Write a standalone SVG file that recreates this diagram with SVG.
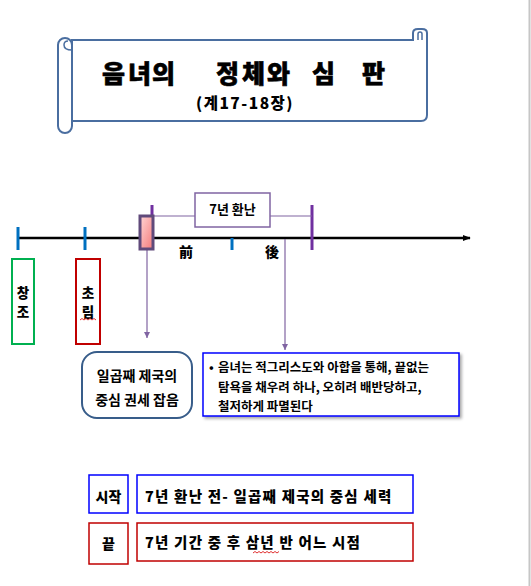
<svg xmlns="http://www.w3.org/2000/svg" width="531" height="586" viewBox="0 0 531 586">
<style>
text{font-family:"Noto Sans CJK KR","Noto Sans",sans-serif;fill:#000}
.t14{font-size:14px;font-weight:900}
.t13{font-size:14px;font-weight:700}
.t12{font-size:12.5px;font-weight:700}
.c{text-anchor:middle}
.v{font-size:13.5px;font-weight:900}
.big{font-size:14.5px;font-weight:900;letter-spacing:1.2px}
.blue{stroke:#0070c0;stroke-width:3}
.purp{stroke:#7030a0;stroke-width:3}
.thin{stroke:#8064a2;stroke-width:1.2;fill:none}
.squig{stroke:#e03030;stroke-width:1;fill:none}
</style>
<defs>
<linearGradient id="pink" x1="0" y1="0" x2="1" y2="1">
<stop offset="0" stop-color="#ffd6d6"/>
<stop offset="1" stop-color="#f47a7a"/>
</linearGradient>
<marker id="ah" viewBox="0 0 10 10" refX="10" refY="5" markerWidth="6" markerHeight="6" orient="auto" markerUnits="userSpaceOnUse">
<path d="M0,0 L10,5 L0,10 Z" fill="#8064a2"/>
</marker>
<marker id="ahk" viewBox="0 0 10 10" refX="9" refY="5" markerWidth="8" markerHeight="8" orient="auto" markerUnits="userSpaceOnUse">
<path d="M0,1 L10,5 L0,9 Z" fill="#000"/>
</marker>
<filter id="sh" x="-5%" y="-10%" width="115%" height="130%">
<feDropShadow dx="2" dy="2" stdDeviation="1.5" flood-color="#000" flood-opacity="0.35"/>
</filter>
</defs>

<line x1="529.5" y1="0" x2="529.5" y2="586" stroke="#c6c6c6" stroke-width="2"/>

<g id="title-scroll">
<path d="M413,40 L413,33 Q413,29 418,29 L422,29 Q427,29 427,33 L427,115 Q427,121 421,121 L72,121 L72,40 Z" fill="#fff" stroke="#4a6ea0" stroke-width="2"/>
<path d="M418,40 L418,34 Q418,32 420,32 Q422,32 422,34 L422,40" fill="none" stroke="#4a6ea0" stroke-width="1.5"/>
<rect x="58" y="38" width="14" height="95" rx="7" fill="#fff" stroke="#4a6ea0" stroke-width="2"/>
<path d="M72,50 Q64,50 64,45 Q64,41 68,41" fill="none" stroke="#4a6ea0" stroke-width="1.5"/>
<line x1="72" y1="40" x2="413" y2="40" stroke="#4a6ea0" stroke-width="2"/>
<text x="102 128 152 178 216 242 267 292 312 362" y="82.5" style="font-size:25px;font-weight:900;stroke:#000;stroke-width:0.6">음녀의 정체와 심판</text>
<text x="245" y="108.5" class="c" style="font-size:15.5px;font-weight:900;letter-spacing:1.5px">(계17-18장)</text>
</g>

<g id="connectors">
<line x1="18" y1="238" x2="470" y2="238" stroke="#000" stroke-width="2.5" marker-end="url(#ahk)"/>
<line class="blue" x1="18" y1="227" x2="18" y2="250"/>
<line class="blue" x1="85" y1="227" x2="85" y2="250"/>
<line class="blue" x1="232" y1="238" x2="232" y2="250"/>
<line class="purp" x1="152" y1="205" x2="152" y2="216"/>
<line class="purp" x1="312" y1="205" x2="312" y2="250"/>
<line class="thin" x1="153" y1="216" x2="195" y2="216"/>
<line class="thin" x1="270" y1="216" x2="312" y2="216"/>
<line class="thin" x1="147" y1="250" x2="147" y2="338" marker-end="url(#ah)"/>
<line class="thin" x1="285" y1="239" x2="285" y2="350" marker-end="url(#ah)"/>
</g>

<g id="marker-start">
<rect x="140" y="216" width="13" height="33" fill="url(#pink)" stroke="#604a7b" stroke-width="3"/>
</g>

<g id="tribulation">
<rect x="195" y="193" width="75" height="34" fill="#fff" stroke="#8064a2" stroke-width="1.5"/>
<text x="232.5" y="214" class="c" style="font-size:13px;font-weight:700">7년 환난</text>
</g>

<g id="labels-time">
<text x="186" y="257" class="c t14">前</text>
<text x="272" y="257" class="c t14">後</text>
</g>

<g id="creation">
<rect x="12" y="259" width="22" height="85" fill="none" stroke="#00b050" stroke-width="2"/>
<text x="23" y="298" class="c v">창</text>
<text x="23" y="317" class="c v">조</text>
</g>

<g id="first-coming">
<rect x="76" y="259" width="24" height="85" fill="none" stroke="#c00000" stroke-width="2"/>
<text x="88" y="298" class="c v">초</text>
<text x="88" y="317" class="c v">림</text>
<path class="squig" d="M80,320 l2,-1.5 l2,1.5 l2,-1.5 l2,1.5 l2,-1.5 l2,1.5 l2,-1.5 l2,1.5"/>
</g>

<g id="seventh-empire">
<rect x="82" y="352" width="110" height="66" rx="15" fill="#fff" stroke="#385d8a" stroke-width="2"/>
<text x="137" y="381" class="c t13">일곱째  제국의</text>
<text x="137" y="405" class="c t13">중심 권세 잡음</text>
</g>

<g id="harlot-desc">
<rect x="203" y="353" width="256" height="63" fill="#fff" stroke="#0000ff" stroke-width="1.5" filter="url(#sh)"/>
<text x="209" y="372" class="t12">•</text>
<text x="218" y="372" class="t12">음녀는 적그리스도와 아합을 통해, 끝없는</text>
<text x="218" y="392" class="t12">탐욕을 채우려 하나, 오히려 배반당하고,</text>
<text x="218" y="411" class="t12">철저하게 파멸된다</text>
</g>

<g id="start-row">
<rect x="89" y="475" width="39" height="38" fill="#fff" stroke="#0000ff" stroke-width="1.5"/>
<text x="108.5" y="502" class="c t14">시작</text>
<rect x="137" y="475" width="276" height="38" fill="#fff" stroke="#0000ff" stroke-width="1.5"/>
<text x="145" y="502" class="big">7년 환난 전- 일곱째 제국의 중심 세력</text>
</g>

<g id="end-row">
<rect x="89" y="523" width="39" height="41" fill="#fff" stroke="#c00000" stroke-width="1.5"/>
<text x="108.5" y="549" class="c t14">끝</text>
<rect x="137" y="523" width="276" height="38" fill="#fff" stroke="#c00000" stroke-width="1.5"/>
<text x="145" y="548" class="big">7년 기간 중 후 삼년 반 어느 시점</text>
<path class="squig" d="M253,553 l2,-1.5 l2,1.5 l2,-1.5 l2,1.5 l2,-1.5 l2,1.5 l2,-1.5 l2,1.5 l2,-1.5 l2,1.5 l2,-1.5 l2,1.5 l2,-1.5"/>
</g>
</svg>
